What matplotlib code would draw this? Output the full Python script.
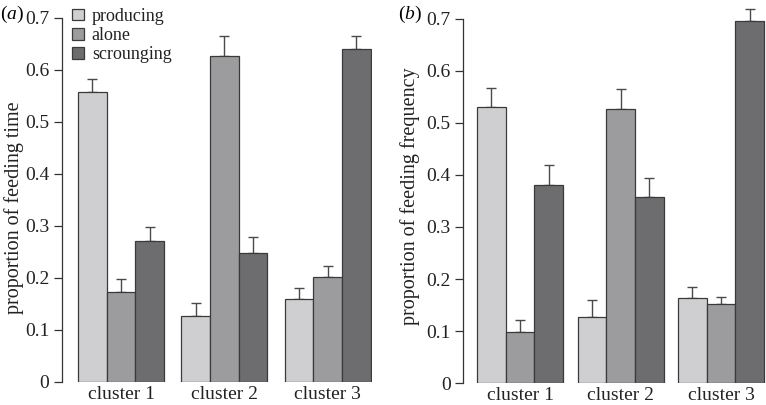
import matplotlib.pyplot as plt
import numpy as np

plt.rcParams['font.family'] = 'Liberation Serif'
plt.rcParams['mathtext.fontset'] = 'custom'
plt.rcParams['mathtext.rm'] = 'Liberation Serif'
plt.rcParams['mathtext.it'] = 'Liberation Serif:italic'

clusters = ['cluster 1', 'cluster 2', 'cluster 3']
groups = ['producing', 'alone', 'scrounging']
colours = ['#cfcfd1', '#9c9c9f', '#6d6d70']
yticks = [0, 0.1, 0.2, 0.3, 0.4, 0.5, 0.6, 0.7]
ytick_labels = ['0', '0.1', '0.2', '0.3', '0.4', '0.5', '0.6', '0.7']

# (a) proportion of feeding time
time_producing = [0.558, 0.126, 0.160]
time_alone = [0.173, 0.627, 0.201]
time_scrounging = [0.271, 0.249, 0.640]
time_producing_err = [0.024, 0.025, 0.021]
time_alone_err = [0.025, 0.038, 0.022]
time_scrounging_err = [0.028, 0.030, 0.026]

# (b) proportion of feeding frequency
freq_producing = [0.530, 0.126, 0.164]
freq_alone = [0.099, 0.526, 0.151]
freq_scrounging = [0.380, 0.357, 0.696]
freq_producing_err = [0.037, 0.034, 0.021]
freq_alone_err = [0.022, 0.039, 0.015]
freq_scrounging_err = [0.040, 0.037, 0.024]


def draw(ax, means, errs, gap, xlim):
    step = 3 + gap
    for i, (m, e) in enumerate(zip(means, errs)):
        x = np.arange(3) * step + i + 0.5
        ax.bar(x, m, width=1.0, color=colours[i], edgecolor='#3a3a3a',
               linewidth=0.9, label=groups[i], zorder=2)
        eb = ax.errorbar(x, m, yerr=[np.zeros(3), e], fmt='none', ecolor='#4a4a4a',
                         elinewidth=1.0, capsize=3.8, capthick=1.0, zorder=1)
        for part in eb.get_children():
            part.set_clip_on(False)
    ax.set_xlim(*xlim)
    ax.set_ylim(0, 0.7)
    ax.set_xticks(np.arange(3) * step + 1.5, clusters)
    ax.set_yticks(yticks, ytick_labels)
    for s in ['top', 'right', 'bottom']:
        ax.spines[s].set_visible(False)
    ax.spines['left'].set_color('#333333')
    ax.spines['left'].set_linewidth(0.9)
    ax.tick_params(axis='y', length=6, width=0.9, pad=3, labelsize=14,
                   color='#333333', labelcolor='#222222')
    ax.tick_params(axis='x', length=0, pad=3, labelsize=14, labelcolor='#222222')


fig = plt.figure(figsize=(7.66, 4.05), dpi=100)
a = fig.add_axes([62 / 766, 23 / 405, 310 / 766, 364 / 405])
b = fig.add_axes([463 / 766, 22 / 405, 302.5 / 766, 364 / 405])

draw(a, [time_producing, time_alone, time_scrounging],
     [time_producing_err, time_alone_err, time_scrounging_err], 0.6, (-0.56, 10.25))
draw(b, [freq_producing, freq_alone, freq_scrounging],
     [freq_producing_err, freq_alone_err, freq_scrounging_err], 0.5, (-0.49, 10.05))

a.legend(loc='upper left', bbox_to_anchor=(10 / 310, (364 + 10) / 364), frameon=False,
         fontsize=13, borderpad=0, borderaxespad=0, handlelength=0.65,
         handleheight=0.6, handletextpad=0.45, labelspacing=0.12, labelcolor='#222222')

fig.text(14 / 766, 1 - 208 / 405, 'proportion of feeding time', rotation=90,
         ha='center', va='center', fontsize=14.5, color='#222222')
fig.text(410 / 766, 1 - 196 / 405, 'proportion of feeding frequency', rotation=90,
         ha='center', va='center', fontsize=14.5, color='#222222')
fig.text(0 / 766, 1 - 14 / 405, r'$(\mathit{a})$', ha='left', va='center', fontsize=14)
fig.text(398 / 766, 1 - 14 / 405, r'$(\mathit{b})$', ha='left', va='center', fontsize=14)

plt.savefig('out.png', dpi=100)
